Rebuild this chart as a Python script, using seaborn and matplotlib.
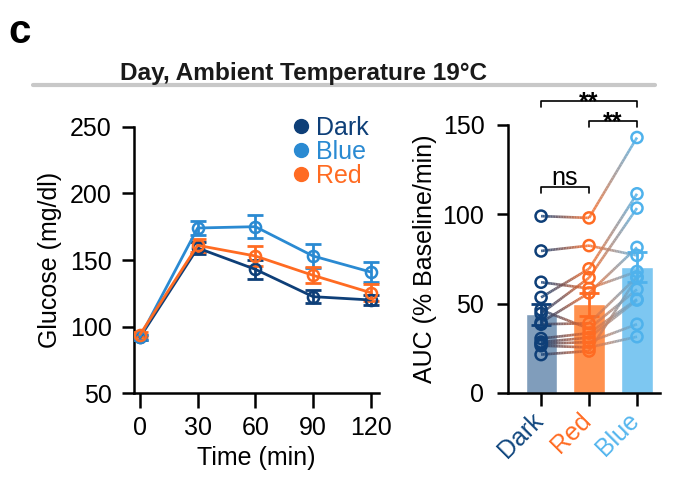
import numpy as np
import pandas as pd
import matplotlib
matplotlib.use("Agg")
import matplotlib.pyplot as plt
from matplotlib.collections import LineCollection
from matplotlib.lines import Line2D
import matplotlib.colors as mcolors
import matplotlib.transforms as mtransforms
import seaborn as sns

# ---------------- data ----------------
time_min = [0, 30, 60, 90, 120]
dark_mean = [92, 159, 143, 122.5, 120]
dark_sem = [2.0, 4.5, 7.0, 5.0, 4.0]
blue_mean = [92, 174, 175, 153, 141]
blue_sem = [2.0, 5.5, 8.5, 9.0, 7.5]
red_mean = [94, 161, 153, 138.5, 125.5]
red_sem = [2.0, 5.0, 7.5, 6.0, 6.5]

auc_groups = ["Dark", "Red", "Blue"]
auc_dark = [99, 79.5, 62, 53.5, 46.5, 44.5, 39.5, 38.5, 30.5, 28.5, 27.5, 26.5, 21.5]
auc_red = [98, 82.5, 58.5, 69.5, 36, 64.5, 56, 39, 33.5, 31, 28.5, 25.5, 23.5]
auc_blue = [143, 77, 68, 111.5, 58, 103.5, 81.5, 65, 52.5, 52, 38.5, 31.5, 64.5]
auc_bar_mean = [44, 49.6, 70.4]
auc_bar_sem = [6.0, 6.5, 8.5]

sig_pairs = [("Dark", "Red", "ns", 115.5), ("Red", "Blue", "**", 152.3), ("Dark", "Blue", "**", 163.4)]

# ---------------- style ----------------
sns.set_style("ticks")
plt.rcParams["font.family"] = ["Liberation Sans", "DejaVu Sans"]
plt.rcParams.update({"text.color": "black", "axes.labelcolor": "black",
                     "xtick.color": "black", "ytick.color": "black",
                     "axes.edgecolor": "black"})

C_DARK = "#0E3F78"
C_BLUE = "#2A8AD2"
C_RED = "#FF6B22"
C_BLUE2 = "#4FB2EC"
line_colors = {"Dark": C_DARK, "Blue": C_BLUE, "Red": C_RED}
pt_colors = {"Dark": C_DARK, "Red": C_RED, "Blue": C_BLUE2}
bar_colors = {"Dark": "#809DBB", "Red": "#FF914E", "Blue": "#7DC7F1"}
err_colors = {"Dark": C_DARK, "Red": C_RED, "Blue": C_BLUE2}

W, H = 694, 488
fig = plt.figure(figsize=(W / 100, H / 100), dpi=100)

def fx(px):
    return px / W

def fy(py):
    return 1 - py / H

FS = 18
SPW = 1.8

# ---------------- left panel ----------------
ax1 = fig.add_axes([fx(134), fy(393.3), fx(379) - fx(134), fy(126.7) - fy(393.3)])
df_left = pd.concat([
    pd.DataFrame({"time": time_min, "glucose": dark_mean, "sem": dark_sem, "cond": "Dark"}),
    pd.DataFrame({"time": time_min, "glucose": blue_mean, "sem": blue_sem, "cond": "Blue"}),
    pd.DataFrame({"time": time_min, "glucose": red_mean, "sem": red_sem, "cond": "Red"}),
])
for cond in ["Dark", "Blue", "Red"]:
    sub = df_left[df_left["cond"] == cond]
    c = line_colors[cond]
    ax1.errorbar(sub["time"], sub["glucose"], yerr=sub["sem"], fmt="none",
                 ecolor=c, elinewidth=2, capsize=6, capthick=2, zorder=3)
    sns.lineplot(data=sub, x="time", y="glucose", color=c, marker="o",
                 markersize=8, markerfacecolor="none", markeredgecolor=c,
                 markeredgewidth=1.8, linewidth=2, ax=ax1, zorder=4, legend=False)

ax1.set_xlim(-3.1, 124.3)
ax1.set_ylim(50, 250)
ax1.set_xticks(time_min)
ax1.set_yticks([50, 100, 150, 200, 250])
ax1.set_xlabel("Time (min)", fontsize=FS, labelpad=5)
ax1.set_ylabel("Glucose (mg/dl)", fontsize=FS, labelpad=6)
for s in ["top", "right"]:
    ax1.spines[s].set_visible(False)
for s in ["left", "bottom"]:
    ax1.spines[s].set_linewidth(SPW)
ax1.tick_params(axis="y", length=9, width=SPW, labelsize=FS, pad=7)
ax1.tick_params(axis="x", length=11, width=SPW, labelsize=FS, pad=5)

handles = [Line2D([], [], marker="o", linestyle="", color=line_colors[c], markersize=10)
           for c in ["Dark", "Blue", "Red"]]
leg = ax1.legend(handles, ["Dark", "Blue", "Red"], frameon=False, fontsize=FS,
                 loc="upper left", bbox_to_anchor=(fx(293), fy(116)),
                 bbox_transform=fig.transFigure, borderpad=0, borderaxespad=0,
                 handlelength=0.6, handletextpad=0.3, labelspacing=0.0)
for t, c in zip(leg.get_texts(), ["Dark", "Blue", "Red"]):
    t.set_color(line_colors[c])

# ---------------- right panel ----------------
ax2 = fig.add_axes([fx(508), fy(393), fx(660) - fx(508), fy(125) - fy(393)])
df_bar = pd.DataFrame({"group": auc_groups, "auc": auc_bar_mean, "sem": auc_bar_sem})
sns.barplot(data=df_bar, x="group", y="auc", hue="group", order=auc_groups,
            palette=bar_colors, saturation=1, width=0.65, errorbar=None, legend=False,
            ax=ax2, zorder=1)
for i, g in enumerate(auc_groups):
    ax2.errorbar(i, auc_bar_mean[i], yerr=auc_bar_sem[i], fmt="none", ecolor=err_colors[g],
                 elinewidth=2, capsize=7, capthick=2, zorder=2)

# paired lines with gradient colours
vals = {"Dark": auc_dark, "Red": auc_red, "Blue": auc_blue}
nseg = 30
segs, cols = [], []
for i in range(len(auc_dark)):
    for a, b in [(0, 1), (1, 2)]:
        ga, gb = auc_groups[a], auc_groups[b]
        ya, yb = vals[ga][i], vals[gb][i]
        ca = np.array(mcolors.to_rgb(pt_colors[ga]))
        cb = np.array(mcolors.to_rgb(pt_colors[gb]))
        ts = np.linspace(0, 1, nseg + 1)
        for k in range(nseg):
            t0, t1 = ts[k], ts[k + 1]
            segs.append([(a + (b - a) * t0, ya + (yb - ya) * t0),
                         (a + (b - a) * t1, ya + (yb - ya) * t1)])
            tm = 0.5 * (t0 + t1)
            cols.append(tuple(ca * (1 - tm) + cb * tm) + (0.85,))
lc = LineCollection(segs, colors=cols, linewidths=1.9, zorder=3, capstyle="butt")
ax2.add_collection(lc)

df_pts = pd.DataFrame({"group": np.repeat(auc_groups, len(auc_dark)),
                       "auc": auc_dark + auc_red + auc_blue})
sns.stripplot(data=df_pts, x="group", y="auc", hue="group", order=auc_groups,
              palette=pt_colors, jitter=False, size=8, legend=False, ax=ax2, zorder=4)
for coll in ax2.collections:
    if coll is lc:
        continue
    fc = coll.get_facecolors()
    if len(fc):
        coll.set_edgecolors(fc)
        coll.set_facecolors("none")
        coll.set_linewidths(1.8)
        coll.set_zorder(4)

ax2.set_xlim(-0.69, 2.48)
ax2.set_ylim(0, 150)
ax2.set_yticks([0, 50, 100, 150])
ax2.set_xlabel("")
ax2.set_ylabel("AUC (% Baseline/min)", fontsize=FS, labelpad=4)
for s in ["top", "right"]:
    ax2.spines[s].set_visible(False)
for s in ["left", "bottom"]:
    ax2.spines[s].set_linewidth(SPW)
ax2.tick_params(axis="y", length=8, width=SPW, labelsize=FS, pad=9)
ax2.tick_params(axis="x", length=9, width=SPW, labelsize=FS, pad=2)
ax2.set_xticks(range(3))
ax2.set_xticklabels(auc_groups, rotation=45, ha="right", va="top")
shift = mtransforms.ScaledTranslation(5 / 72, 0, fig.dpi_scale_trans)
for t, g in zip(ax2.get_xticklabels(), auc_groups):
    t.set_color({"Dark": "#11477F", "Red": C_RED, "Blue": "#55B6EE"}[g])
    t.set_transform(t.get_transform() + shift)

# significance brackets
for g1, g2, lab, yb in sig_pairs:
    x1, x2 = auc_groups.index(g1), auc_groups.index(g2)
    ax2.plot([x1, x1, x2, x2], [yb - 3.5, yb, yb, yb - 3.5], color="black", lw=1.2,
             clip_on=False, zorder=5)
    if lab == "ns":
        ax2.text((x1 + x2) / 2, yb + 0.8, lab, ha="center", va="baseline", fontsize=FS,
                 clip_on=False)
    else:
        ax2.text((x1 + x2) / 2, yb - 4.7, lab, ha="center", va="baseline", fontsize=FS,
                 fontweight="bold", clip_on=False)

# ---------------- header ----------------
fig.add_artist(Line2D([fx(33), fx(655)], [fy(85.3), fy(85.3)], color="#C8C8C8", lw=3,
                      transform=fig.transFigure))
fig.text(fx(303.5), fy(80), "Day, Ambient Temperature 19°C", ha="center", va="baseline",
         fontsize=17.6, fontweight="bold", color="#1A1A1A")
fig.text(fx(8), fy(43), "c", ha="left", va="baseline", fontsize=29, fontweight="bold")

fig.savefig("out.png", dpi=100)
